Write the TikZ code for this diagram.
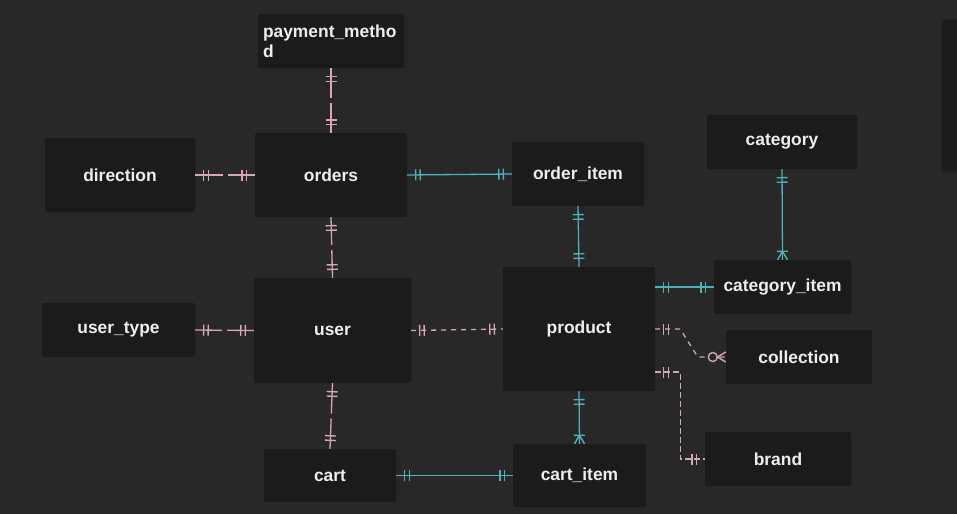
\documentclass[tikz,border=0pt]{standalone}
\usepackage{fontspec}
\setmainfont{Liberation Sans}
\usetikzlibrary{decorations.markings}
\definecolor{bgc}{HTML}{282828}
\definecolor{boxc}{HTML}{1B1B1B}
\definecolor{txtc}{HTML}{EEEEEE}
\definecolor{pinkc}{HTML}{D6A6B1}
\definecolor{tealc}{HTML}{52AFB8}
\tikzset{
  entity/.style={fill=boxc, rounded corners=2pt, text=txtc, inner sep=0pt,
    font=\bfseries\fontsize{17.4}{20}\selectfont},
  rel/.style={line width=1.3pt, line cap=butt},
  pinkrel/.style={rel, color=pinkc},
  tealrel/.style={rel, color=tealc},
  mk/.style={solid, line width=1.4pt},
  % small break half way along a solid line
  midgap/.style={postaction={decorate,decoration={markings,
      mark=at position 0.5 with {\fill[bgc] (-2.5pt,-1.2pt) rectangle (2.5pt,1.2pt);}}}},
  % exactly one, at the start of the path
  onestart/.style={postaction={decorate,decoration={markings,
      mark=at position 8.5pt with {\draw[mk] (0pt,-5.5pt)--(0pt,5.5pt) (4.5pt,-5.5pt)--(4.5pt,5.5pt);}}}},
  % exactly one, at the end of the path
  oneend/.style={postaction={decorate,decoration={markings,
      mark=at position -8.5pt with {\draw[mk] (0pt,-5.5pt)--(0pt,5.5pt) (-4.5pt,-5.5pt)--(-4.5pt,5.5pt);}}}},
  % one or many, at the end of the path
  manyend/.style={postaction={decorate,decoration={markings,
      mark=at position -8.5pt with {\draw[mk] (0pt,-5.5pt)--(0pt,5.5pt) (0pt,0pt)--(8.5pt,5pt) (0pt,0pt)--(8.5pt,-5pt);}}}},
  % zero or many, at the end of the path
  zmanyend/.style={postaction={decorate,decoration={markings,
      mark=at position -13pt with {\draw[mk,fill=bgc] (0pt,0pt) circle (4.5pt); \draw[mk] (4.5pt,0pt)--(13pt,5pt) (4.5pt,0pt)--(13pt,-5pt);}}}},
}
\begin{document}
\begin{tikzpicture}[x=1pt,y=-1pt]
\fill[bgc] (0,0) rectangle (957,514);
\useasboundingbox (0,0) rectangle (957,514);

% side panel at the right edge
\fill[black,opacity=0.15,rounded corners=3pt] (941,19) rectangle (975,173);
\fill[boxc,rounded corners=3pt] (943,20) rectangle (975,170);

% entities
\node[entity, minimum width=146pt, minimum height=54pt, text width=136pt, align=left] (pm) at (331,41) {payment\_metho\\d};
\node[entity, minimum width=150pt, minimum height=74pt] (direction) at (120,175) {direction};
\node[entity, minimum width=152pt, minimum height=84pt] (orders) at (331,175) {orders};
\node[entity, minimum width=132pt, minimum height=64pt] (orderitem) at (578,174) {order\_item};
\node[entity, minimum width=150pt, minimum height=54pt] (category) at (782,142) {category};
\node[entity, minimum width=153pt, minimum height=54pt] (usertype) at (118.5,330) {user\_type};
\node[entity, minimum width=157pt, minimum height=105pt] (user) at (332.5,330.5) {user};
\node[entity, minimum width=152pt, minimum height=124pt] (product) at (579,329) {product};
\node[entity, minimum width=137pt, minimum height=54pt] (catitem) at (782.5,287) {category\_item};
\node[entity, minimum width=146pt, minimum height=54pt] (collection) at (799,357) {collection};
\node[entity, minimum width=146pt, minimum height=54pt] (brand) at (778,459) {brand};
\node[entity, minimum width=132pt, minimum height=53pt] (cart) at (330,475.5) {cart};
\node[entity, minimum width=133pt, minimum height=63pt] (cartitem) at (579.5,475.5) {cart\_item};

% relationships
\draw[pinkrel, midgap, onestart, oneend] (pm.south) -- (orders.north);
\draw[pinkrel, midgap, onestart, oneend] (direction.east) -- (orders.west);
\draw[tealrel, onestart, oneend] (orders.east) -- (orderitem.west);
\draw[pinkrel, midgap, onestart, oneend] (orders.south) -- (user.north);
\draw[pinkrel, midgap, onestart, oneend] (usertype.east) -- (user.west);
\draw[pinkrel, dash pattern=on 5pt off 5pt, onestart, oneend] (user.east) -- (product.west);
\draw[pinkrel, midgap, onestart, oneend] (user.south) -- (cart.north);
\draw[tealrel, onestart, oneend] (cart.east) -- (cartitem.west);
\draw[tealrel, onestart, oneend] (orderitem.south) -- (product.north);
\draw[tealrel, onestart, manyend] (product.south) -- (cartitem.north);
\draw[tealrel, onestart, manyend] (category.south) -- (catitem.north);
\draw[tealrel, onestart, oneend] (product.east |- catitem.west) -- (catitem.west);
\draw[pinkrel, dash pattern=on 5pt off 5pt, onestart, zmanyend]
  (product.east) -- ++(25,0) -- ([xshift=-28pt]collection.west) -- (collection.west);
\draw[pinkrel, dash pattern=on 6pt off 3pt, onestart, oneend]
  ([yshift=-43pt]product.east) -- ++(25,0) |- (brand.west);
\end{tikzpicture}
\end{document}
